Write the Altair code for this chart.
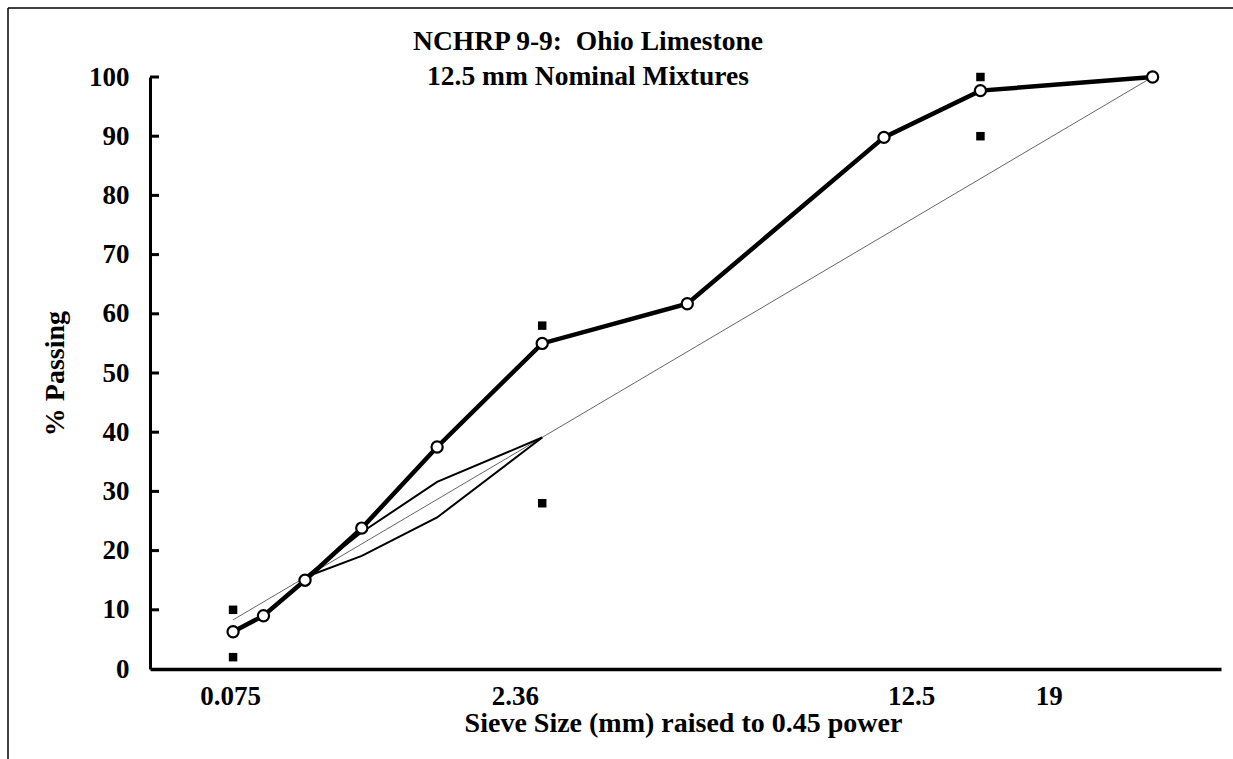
import altair as alt
import pandas as pd

# Sieve sizes (mm) and the measured gradation (% passing)
sieve_mm = [0.075, 0.15, 0.3, 0.6, 1.18, 2.36, 4.75, 9.5, 12.5, 19]
pct_passing = [6.3, 9.0, 15.0, 23.8, 37.5, 55.0, 61.7, 89.8, 97.7, 100.0]

# Superpave control points for 12.5 mm nominal size
ctrl_mm = [0.075, 0.075, 2.36, 2.36, 12.5, 12.5]
ctrl_pct = [2, 10, 28, 58, 90, 100]

# Restricted zone boundaries
rz_mm = [0.3, 0.6, 1.18, 2.36]
rz_upper = [15.5, 23.1, 31.6, 39.1]
rz_lower = [15.5, 19.1, 25.6, 39.1]

# Maximum density line end points
md_mm = [0.075, 19]
md_pct = [8.3, 100.0]

# Axis labels
x_label_at = [0.069, 2.01, 10.3, 14.9]
x_label_text = ["0.075", "2.36", "12.5", "19"]
y_ticks = [0, 10, 20, 30, 40, 50, 60, 70, 80, 90, 100]

title_lines = ["NCHRP 9-9:\u00a0 Ohio Limestone", "12.5 mm Nominal Mixtures"]

FONT = "Liberation Serif"
W, H = 1071, 592

grad = pd.DataFrame({"size": sieve_mm, "pct": pct_passing})
ctrl = pd.DataFrame({"size": ctrl_mm, "pct": ctrl_pct})
rz = pd.DataFrame({
    "size": rz_mm + rz_mm,
    "pct": rz_upper + rz_lower,
    "bound": ["upper"] * len(rz_mm) + ["lower"] * len(rz_mm),
})
md = pd.DataFrame({"size": md_mm, "pct": md_pct})
ticks = pd.DataFrame({"pct": y_ticks[1:]})

label_expr = "[{}][indexof([{}], datum.value)]".format(
    ",".join("'%s'" % t for t in x_label_text),
    ",".join(str(v) for v in x_label_at),
)

x_scale = alt.Scale(type="pow", exponent=0.45, domain=[0, 22], nice=False, zero=True)
y_scale = alt.Scale(domain=[0, 100], nice=False)

x_axis = alt.Axis(
    title="Sieve Size (mm) raised to 0.45 power",
    values=x_label_at,
    labelExpr=label_expr,
    ticks=False,
    grid=False,
    labelFont=FONT, labelFontSize=27, labelFontWeight="bold", labelColor="black",
    labelPadding=14, labelBaseline="top", labelFlush=False, labelOverlap=False,
    titleFont=FONT, titleFontSize=28, titleFontWeight="bold", titleColor="black",
    titleX=533, titleY=62, titleBaseline="alphabetic",
    domainColor="black", domainWidth=3.5,
)
y_axis = alt.Axis(
    title="% Passing",
    values=y_ticks,
    ticks=False,
    grid=False,
    labelFont=FONT, labelFontSize=27, labelFontWeight="bold", labelColor="black",
    labelPadding=21,
    titleFont=FONT, titleFontSize=28, titleFontWeight="bold", titleColor="black",
    titleX=-95, titleY=296, titleBaseline="middle", titleAngle=-90,
    domainColor="black", domainWidth=3,
)

x_enc = alt.X("size:Q", scale=x_scale, axis=x_axis)
y_enc = alt.Y("pct:Q", scale=y_scale, axis=y_axis)

max_density = alt.Chart(md).mark_line(color="#555555", strokeWidth=0.9).encode(x=x_enc, y=y_enc)

zone = alt.Chart(rz).mark_line(color="black", strokeWidth=2).encode(
    x=x_enc, y=y_enc, detail="bound:N"
)

grad_line = alt.Chart(grad).mark_line(color="black", strokeWidth=4.5).encode(x=x_enc, y=y_enc)

grad_pts = alt.Chart(grad).mark_point(
    shape="circle", filled=True, fill="white", stroke="black", strokeWidth=2.2,
    size=125, opacity=1
).encode(x=x_enc, y=y_enc)

ctrl_pts = alt.Chart(ctrl).mark_square(color="black", size=72, opacity=1).encode(x=x_enc, y=y_enc)

# inward tick marks on the y axis
y_tick_marks = alt.Chart(ticks).mark_rule(color="black", strokeWidth=3).encode(
    y=y_enc, x=alt.value(0), x2=alt.value(9)
)

frame_src = alt.Data(values=[{}])
frame_top = alt.Chart(frame_src).mark_rule(color="black", strokeWidth=1.5).encode(
    x=alt.value(-142), x2=alt.value(W + 12), y=alt.value(-69)
)
frame_left = alt.Chart(frame_src).mark_rule(color="black", strokeWidth=1.5).encode(
    x=alt.value(-142), y=alt.value(-69), y2=alt.value(H + 90)
)

title_style = dict(font=FONT, fontSize=27.5, fontWeight="bold", color="black",
                   align="center", baseline="alphabetic")
title_1 = alt.Chart(frame_src).mark_text(text=title_lines[0], **title_style).encode(
    x=alt.value(438), y=alt.value(-27)
)
title_2 = alt.Chart(frame_src).mark_text(text=title_lines[1], **title_style).encode(
    x=alt.value(438), y=alt.value(8)
)

chart = alt.layer(
    max_density, zone, grad_line, grad_pts, ctrl_pts, y_tick_marks,
    frame_top, frame_left, title_1, title_2
).properties(
    width=W, height=H,
    background="white",
    padding={"left": 150, "top": 77, "right": 12, "bottom": 90},
    autosize=alt.AutoSizeParams(type="none"),
).configure_view(stroke="transparent", strokeWidth=0)

chart.save("out.html", embed_options={"renderer": "svg", "actions": False})
